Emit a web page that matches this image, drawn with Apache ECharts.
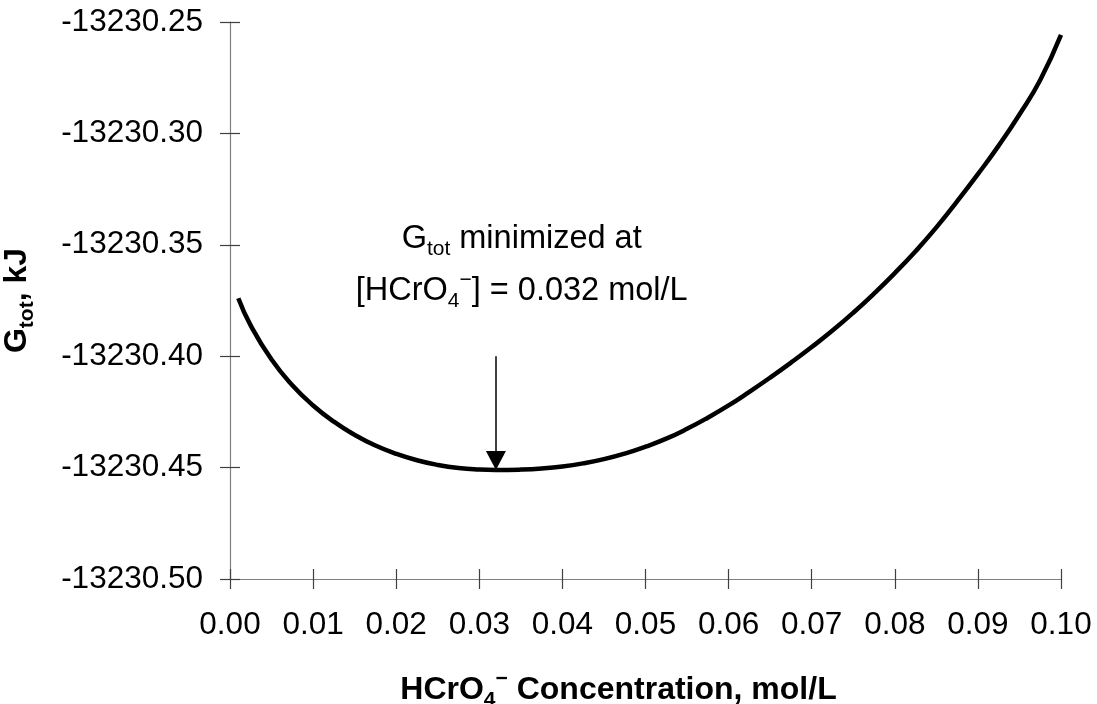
<!DOCTYPE html>
<html>
<head>
<meta charset="utf-8">
<script src="https://cdn.jsdelivr.net/npm/echarts@6/dist/echarts.min.js"></script>
<style>
  html, body { margin: 0; padding: 0; background: #ffffff; }
  #chart { width: 1097px; height: 704px; }
</style>
</head>
<body>
<div id="chart"></div>
<script>
// ---- data ----
const concentration = [0.001, 0.0025, 0.005, 0.0075, 0.010, 0.0125, 0.015, 0.0175, 0.020, 0.0225, 0.025, 0.0275,
                       0.030, 0.032, 0.035, 0.0375, 0.040, 0.0425, 0.045, 0.0475, 0.050, 0.0525, 0.055, 0.0575,
                       0.060, 0.0625, 0.065, 0.0675, 0.070, 0.0725, 0.075, 0.0775, 0.080, 0.0825, 0.085, 0.0875,
                       0.090, 0.0925, 0.095, 0.0975, 0.100];
const gTot = [-13230.3740, -13230.3863, -13230.4015, -13230.4130, -13230.4221, -13230.4294, -13230.4353, -13230.4401,
              -13230.4438, -13230.4467, -13230.4488, -13230.4502, -13230.4509, -13230.4511, -13230.4509, -13230.4504,
              -13230.4495, -13230.4481, -13230.4462, -13230.4437, -13230.4406, -13230.4370, -13230.4326, -13230.4276,
              -13230.4221, -13230.4160, -13230.4096, -13230.4029, -13230.3959, -13230.3885, -13230.3805, -13230.3719,
              -13230.3627, -13230.3529, -13230.3422, -13230.3305, -13230.3183, -13230.3055, -13230.2915, -13230.2760,
              -13230.2558];
const xTicks = { min: 0, max: 0.10, interval: 0.01 };
const yTicks = { min: -13230.50, max: -13230.25, interval: 0.05 };
const minimumAt = [0.032, -13230.4511];
const arrowStart = [0.032, -13230.40];
const annotationLine1 = { coord: [0.0351, -13230.3474] };
const annotationLine2 = { coord: [0.0351, -13230.3707] };

const FONT = "'Liberation Sans', Arial, Helvetica, sans-serif";
const points = concentration.map((x, i) => [x, gTot[i]]);

const gridBox = { left: 230, right: 36, top: 22, bottom: 125, containLabel: false, outerBoundsMode: 'none' };

const chart = echarts.init(document.getElementById('chart'), null, { renderer: 'canvas' });
chart.setOption({
  animation: false,
  backgroundColor: '#ffffff',
  grid: [Object.assign({}, gridBox), Object.assign({}, gridBox)],
  xAxis: [
    {
      type: 'value', gridIndex: 0, position: 'bottom',
      min: xTicks.min, max: xTicks.max, interval: xTicks.interval,
      splitLine: { show: false },
      axisLine: { onZero: false, lineStyle: { color: '#808080', width: 1.2 } },
      axisTick: { show: true, inside: false, length: 10, lineStyle: { color: '#404040', width: 1.2 } },
      axisLabel: { color: '#000', fontFamily: FONT, fontSize: 31.5, margin: 30,
                   formatter: v => v.toFixed(2) },
      name: '{b|HCrO}{bs|4}{bp|−}{b| Concentration, mol/L}',
      nameLocation: 'middle', nameGap: 90,
      nameTextStyle: {
        padding: [0, 54, 0, 0],
        rich: {
          b:  { fontFamily: FONT, fontSize: 32, fontWeight: 'bold', color: '#000', lineHeight: 42 },
          bs: { fontFamily: FONT, fontSize: 21, fontWeight: 'bold', color: '#000', lineHeight: 20, verticalAlign: 'bottom' },
          bp: { fontFamily: FONT, fontSize: 21, fontWeight: 'bold', color: '#000', lineHeight: 20, verticalAlign: 'top' }
        }
      }
    },
    {
      type: 'value', gridIndex: 1, position: 'bottom',
      min: xTicks.min, max: xTicks.max, interval: xTicks.interval,
      splitLine: { show: false },
      axisLine: { show: false, onZero: false },
      axisTick: { show: true, inside: true, length: 10, lineStyle: { color: '#404040', width: 1.2 } },
      axisLabel: { show: false }
    }
  ],
  yAxis: [
    {
      type: 'value', gridIndex: 0, position: 'left',
      min: yTicks.min, max: yTicks.max, interval: yTicks.interval,
      splitLine: { show: false },
      axisLine: { show: true, onZero: false, lineStyle: { color: '#808080', width: 1.2 } },
      axisTick: { show: true, inside: false, length: 10, lineStyle: { color: '#404040', width: 1.2 } },
      axisLabel: { color: '#000', fontFamily: FONT, fontSize: 31.5, margin: 27,
                   formatter: v => v.toFixed(2) },
      name: '{b|G}{bs|tot}{b|, kJ}',
      nameLocation: 'middle', nameGap: 192,
      nameTextStyle: {
        rich: {
          b:  { fontFamily: FONT, fontSize: 32, fontWeight: 'bold', color: '#000', lineHeight: 42 },
          bs: { fontFamily: FONT, fontSize: 21, fontWeight: 'bold', color: '#000', lineHeight: 20, verticalAlign: 'bottom' }
        }
      }
    },
    {
      type: 'value', gridIndex: 1, position: 'left',
      min: yTicks.min, max: yTicks.max, interval: yTicks.interval,
      splitLine: { show: false },
      axisLine: { show: false, onZero: false },
      axisTick: { show: true, inside: true, length: 10, lineStyle: { color: '#404040', width: 1.2 } },
      axisLabel: { show: false }
    }
  ],
  series: [
    {
      type: 'line',
      xAxisIndex: 0, yAxisIndex: 0,
      data: points,
      smooth: 0.5,
      showSymbol: false,
      symbol: 'none',
      lineStyle: { color: '#000', width: 4.5 },
      emphasis: { disabled: true },
      silent: true,
      markLine: {
        silent: true,
        animation: false,
        symbolSize: [20, 19],
        label: { show: false },
        lineStyle: { color: '#000', width: 1.5, type: 'solid' },
        emphasis: { disabled: true },
        data: [[
          { coord: arrowStart, symbol: 'none' },
          { coord: minimumAt, symbol: 'triangle', symbolOffset: [0, '50%'] }
        ]]
      },
      markPoint: {
        silent: true,
        animation: false,
        symbol: 'circle',
        symbolSize: 0,
        itemStyle: { color: 'rgba(0,0,0,0)' },
        label: {
          show: true, position: 'inside', color: '#000',
          rich: {
            n:  { fontFamily: FONT, fontSize: 32.5, color: '#000', lineHeight: 42 },
            s:  { fontFamily: FONT, fontSize: 21, color: '#000', lineHeight: 20, verticalAlign: 'bottom' },
            p:  { fontFamily: FONT, fontSize: 21, color: '#000', lineHeight: 20, verticalAlign: 'top' }
          }
        },
        data: [
          { coord: annotationLine1.coord, label: { formatter: '{n|G}{s|tot}{n| minimized at}' } },
          { coord: annotationLine2.coord, label: { formatter: '{n|[HCrO}{s|4}{p|−}{n|] = 0.032 mol/L}' } }
        ]
      }
    }
  ]
});
</script>
</body>
</html>
